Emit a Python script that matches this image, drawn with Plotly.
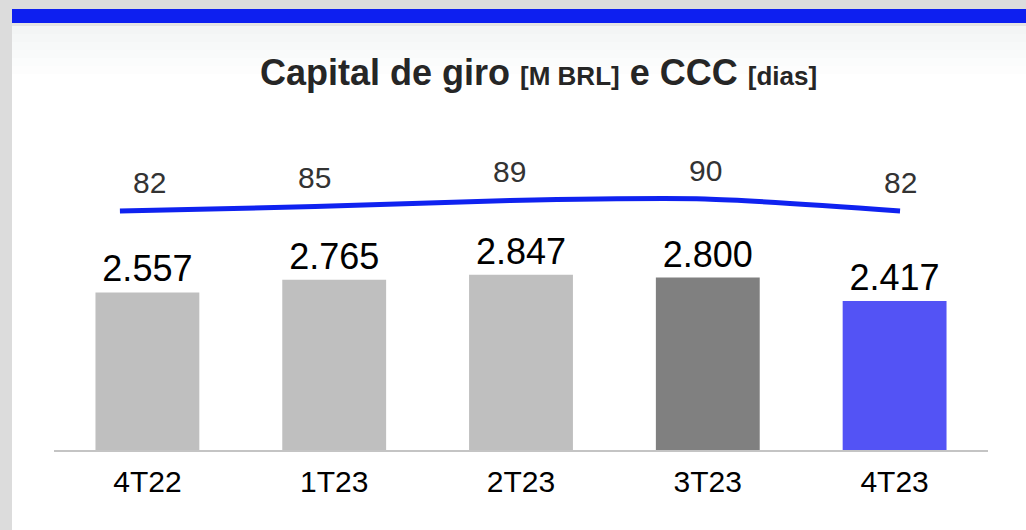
import plotly.graph_objects as go

# ---- data ----
categories = ["4T22", "1T23", "2T23", "3T23", "4T23"]
capital_giro = [2557, 2765, 2847, 2800, 2417]   # M BRL
ccc_dias = [82, 85, 89, 90, 82]                  # dias
bar_colors = ["#bfbfbf", "#bfbfbf", "#bfbfbf", "#808080", "#5353f5"]
line_label_xshift = [30, 0, 0, 0, 0]

W, H = 1026, 530
FONT = "Arial, Liberation Sans, sans-serif"

def py(px):
    return 1 - px / H

def pxx(px):
    return px / W

fig = go.Figure()

fig.add_trace(go.Bar(
    x=categories, y=capital_giro,
    marker=dict(color=bar_colors, line=dict(width=0)),
    texttemplate="%{y:,.0f}", textposition="outside",
    textfont=dict(family=FONT, size=36, color="#000000"),
    cliponaxis=False, hoverinfo="skip", showlegend=False,
))

fig.add_trace(go.Scatter(
    x=categories, y=ccc_dias, xaxis="x2", yaxis="y2",
    mode="lines", line=dict(color="#0f22f0", width=5, shape="spline", smoothing=0.7),
    cliponaxis=False, hoverinfo="skip", showlegend=False,
))

shapes = [
    # white panel
    dict(type="rect", xref="paper", yref="paper", x0=pxx(12), x1=1, y0=0, y1=py(26),
         fillcolor="#ffffff", line=dict(width=0), layer="below"),
    # thin light line under band
    dict(type="rect", xref="paper", yref="paper", x0=pxx(12), x1=1, y0=py(26), y1=py(23),
         fillcolor="#e4e4e4", line=dict(width=0), layer="below"),
    # blue band
    dict(type="rect", xref="paper", yref="paper", x0=pxx(12), x1=1, y0=py(23), y1=py(9),
         fillcolor="#0d1ff0", line=dict(width=0), layer="below"),
]
# top gradient of panel
grad = ["#f3f5f5", "#f5f7f7", "#f7f9f9", "#f9fafa", "#fbfcfc", "#fdfdfd"]
for i, c in enumerate(grad):
    shapes.append(dict(type="rect", xref="paper", yref="paper", x0=pxx(12), x1=1,
                       y0=py(26 + 8 * (i + 1)), y1=py(26 + 8 * i),
                       fillcolor=c, line=dict(width=0), layer="below"))

annotations = [
    dict(xref="paper", yref="paper", x=pxx(538), y=py(73), xanchor="center", yanchor="middle",
         showarrow=False,
         text="<b>Capital de giro <span style='font-size:26px'>[M BRL]</span> e CCC "
              "<span style='font-size:26px'>[dias]</span></b>",
         font=dict(family=FONT, size=36, color="#262626")),
]
for cat, v, xs in zip(categories, ccc_dias, line_label_xshift):
    annotations.append(dict(xref="x2", yref="y2", x=cat, y=v, xshift=xs, yshift=29,
                            xanchor="center", yanchor="middle", showarrow=False,
                            text=str(v), font=dict(family=FONT, size=30, color="#333333")))

fig.update_layout(
    width=W, height=H,
    margin=dict(l=0, r=0, t=0, b=0),
    paper_bgcolor="#dcdcdc", plot_bgcolor="rgba(0,0,0,0)",
    separators=",.",
    bargap=0.444,
    shapes=shapes, annotations=annotations,
    xaxis=dict(domain=[pxx(54), pxx(988)], type="category",
               showline=True, linecolor="#c4c4c4", linewidth=2,
               ticks="outside", ticklen=4, tickcolor="rgba(0,0,0,0)",
               tickfont=dict(family=FONT, size=30, color="#000000"),
               showgrid=False, zeroline=False, fixedrange=True),
    yaxis=dict(domain=[py(450), py(100)], range=[0, 5682], visible=False,
               showgrid=False, zeroline=False),
    xaxis2=dict(overlaying="x", anchor="y", type="category",
                range=[-0.338, 4.451], visible=False),
    yaxis2=dict(overlaying="y", anchor="x", range=[-77.3, 156], visible=False),
)

fig.write_html("out.html", config={"displayModeBar": False},
               post_script="document.body.style.margin='0';document.body.style.background='#dcdcdc';")
